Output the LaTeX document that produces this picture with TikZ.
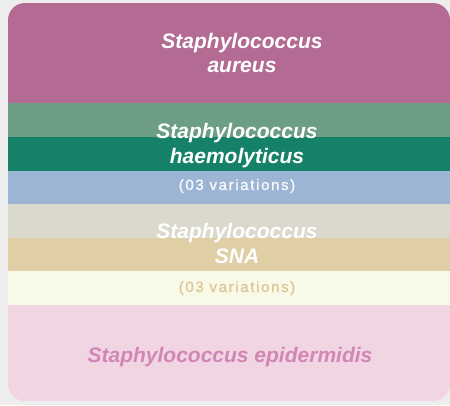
\documentclass[tikz,border=0pt]{standalone}
\usepackage{fontspec}
\setmainfont{Liberation Sans}
\newfontfamily\spacedfont[LetterSpace=11,FakeBold=1.2]{Liberation Sans}
\definecolor{bgc}{HTML}{EDEDED}
\definecolor{cmag}{HTML}{B36A93}
\definecolor{clgreen}{HTML}{6B9E84}
\definecolor{cteal}{HTML}{168169}
\definecolor{cblue}{HTML}{9CB5D4}
\definecolor{cgrey}{HTML}{DAD9CB}
\definecolor{ctan}{HTML}{E0CFA5}
\definecolor{ccream}{HTML}{F9F9E8}
\definecolor{cpink}{HTML}{F1D5E3}
\definecolor{tpink}{HTML}{D286B6}
\definecolor{ttan}{HTML}{DCC796}
\tikzset{
  species/.style={anchor=base, inner sep=0pt, font=\fontsize{21}{25}\selectfont\bfseries\itshape, text=white},
  variations/.style={anchor=base, inner sep=0pt, font=\fontsize{15}{18}\selectfont\spacedfont, text=white},
}
\begin{document}
\begin{tikzpicture}[x=1pt,y=-1pt]
\useasboundingbox (0,0) rectangle (450,405);
\fill[bgc] (0,0) rectangle (450,405);
\begin{scope}
\clip[rounded corners=17] (8,3) rectangle (450,401);
\fill[cmag] (8,3) rectangle (450,103);
\fill[clgreen] (8,103) rectangle (450,137);
\fill[cteal] (8,137) rectangle (450,171);
\fill[cblue] (8,171) rectangle (450,204);
\fill[cgrey] (8,204) rectangle (450,238);
\fill[ctan] (8,238) rectangle (450,271);
\fill[ccream] (8,271) rectangle (450,305);
\fill[cpink] (8,305) rectangle (450,401);
\end{scope}
\node[species] (aureus1) at (242,48) {Staphylococcus};
\node[species] (aureus2) at (242,72) {aureus};
\node[species] (haem1) at (237,138) {Staphylococcus};
\node[species] (haem2) at (237,163) {haemolyticus};
\node[variations, text=white!92!cblue] (var1) at (237,190) {(03 variations)};
\node[species] (sna1) at (237,238) {Staphylococcus};
\node[species] (sna2) at (237,263) {SNA};
\node[variations, text=ttan] (var2) at (237,292) {(03 variations)};
\node[species, text=tpink] (epi) at (230,362) {Staphylococcus epidermidis};
\end{tikzpicture}
\end{document}
